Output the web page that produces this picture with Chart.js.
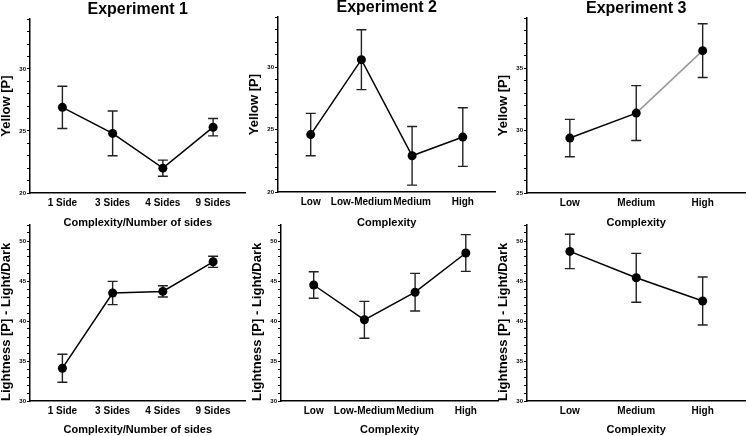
<!DOCTYPE html>
<html>
<head>
<meta charset="utf-8">
<script src="https://cdn.jsdelivr.net/npm/chart.js@4.4.0/dist/chart.umd.min.js"></script>
<style>
  body { margin: 0; background: #fff; width: 750px; height: 436px; overflow: hidden; position: relative; }
  canvas { position: absolute; }
</style>
</head>
<body>
<canvas id="c1"></canvas>
<canvas id="c2"></canvas>
<canvas id="c3"></canvas>
<canvas id="c4"></canvas>
<canvas id="c5"></canvas>
<canvas id="c6"></canvas>
<script>
// categories
const sidesLabels = ["1 Side", "3 Sides", "4 Sides", "9 Sides"];
const exp2Labels = ["Low", "Low-Medium", "Medium", "High"];
const exp3Labels = ["Low", "Medium", "High"];

// Yellow [P] means and error bars
const exp1Yellow = [26.9, 24.8, 22.0, 25.3];
const exp1YellowErr = [1.7, 1.8, 0.65, 0.7];
const exp2Yellow = [24.6, 30.6, 22.9, 24.4];
const exp2YellowErr = [1.7, 2.4, 2.35, 2.35];
const exp3Yellow = [29.4, 31.4, 36.4];
const exp3YellowErr = [1.5, 2.2, 2.15];

// Lightness [P] means and error bars
const exp1Light = [34.1, 43.5, 43.7, 47.4];
const exp1LightErr = [1.75, 1.45, 0.7, 0.7];
const exp2Light = [44.5, 40.15, 43.6, 48.5];
const exp2LightErr = [1.65, 2.3, 2.35, 2.3];
const exp3Light = [48.7, 45.4, 42.5];
const exp3LightErr = [2.15, 3.05, 3.0];

const FONT = "'Liberation Sans', Arial, sans-serif";
Chart.defaults.color = "#000";
Chart.defaults.font.family = FONT;

// error bars drawn under the points
const errorBars = {
    id: "errorBars",
    beforeDatasetsDraw(chart) {
        const { ctx, scales: { x, y } } = chart;
        const ds = chart.data.datasets[0];
        ctx.save();
        ctx.strokeStyle = "#222";
        ctx.lineWidth = 1.4;
        ds.data.forEach((pt, i) => {
            const e = ds.errors[i];
            const px = x.getPixelForValue(pt.x);
            const top = y.getPixelForValue(pt.y + e);
            const bot = y.getPixelForValue(pt.y - e);
            ctx.beginPath();
            ctx.moveTo(px, top); ctx.lineTo(px, bot);
            ctx.moveTo(px - 5, top); ctx.lineTo(px + 5, top);
            ctx.moveTo(px - 5, bot); ctx.lineTo(px + 5, bot);
            ctx.stroke();
        });
        ctx.restore();
    }
};

function panel(id, p) {
    const canvas = document.getElementById(id);
    const yw = 30;
    const left = p.x0 - yw;
    const top = p.title ? p.top : p.y0 - 6;
    const w = Math.round(p.x1 - left);
    const h = Math.round(p.xTitleY + 6.6 - top);
    const xh = h - (p.y1 - top);
    canvas.width = w;
    canvas.height = h;
    canvas.style.left = left + "px";
    canvas.style.top = top + "px";

    new Chart(canvas, {
        type: "line",
        data: {
            datasets: [{
                data: p.values.map((v, i) => ({ x: i + 1, y: v })),
                errors: p.errors,
                borderColor: "#000",
                borderWidth: 1.5,
                tension: 0,
                pointRadius: 4.5,
                pointHoverRadius: 4.5,
                pointBackgroundColor: "#000",
                pointBorderWidth: 0,
                segment: p.segment
            }]
        },
        options: {
            responsive: false,
            animation: false,
            layout: { padding: { top: p.title ? 0 : 6, left: 0, right: 0, bottom: 0 } },
            plugins: {
                legend: { display: false },
                tooltip: { enabled: false },
                title: {
                    display: !!p.title,
                    text: p.title,
                    fullSize: false,
                    padding: 0,
                    font: { size: 16, weight: "bold", lineHeight: 1.2 }
                }
            },
            scales: {
                x: {
                    type: "linear",
                    min: 1 - 0.645,
                    max: p.labels.length + 0.645,
                    afterBuildTicks: s => { s.ticks = p.labels.map((_, i) => ({ value: i + 1 })); },
                    afterFit: s => { s.height = xh; },
                    grid: { display: false, drawTicks: false, tickLength: 0 },
                    border: { display: true, color: "#000", width: 1.5 },
                    ticks: {
                        autoSkip: false,
                        maxRotation: 0,
                        padding: 4,
                        font: { size: 10, weight: "bold" },
                        callback: v => p.labels[v - 1] || ""
                    },
                    title: {
                        display: true,
                        text: p.xTitle,
                        padding: 0,
                        font: { size: 11, weight: "bold", lineHeight: 1.2 }
                    }
                },
                y: {
                    min: p.yMin,
                    max: p.yMax,
                    afterFit: s => { s.width = yw; },
                    grid: { display: true, drawOnChartArea: false, drawTicks: true, tickLength: 3, color: "#000", lineWidth: 1 },
                    border: { display: true, color: "#000", width: 1.5 },
                    ticks: {
                        stepSize: 1,
                        autoSkip: false,
                        padding: 1,
                        font: { size: 6, weight: "bold" },
                        callback: v => (v % 5 === 0 ? v : "")
                    },
                    title: {
                        display: true,
                        text: p.yTitle,
                        align: p.yAlign || "center",
                        padding: 0,
                        font: { size: 13, weight: "bold", lineHeight: 1 }
                    }
                }
            }
        },
        plugins: [errorBars]
    });
}

// top row: Yellow
panel("c1", { title: "Experiment 1", top: 0, x0: 30, x1: 250, y1: 193, xTitleY: 223,
    labels: sidesLabels, values: exp1Yellow, errors: exp1YellowErr, yMin: 20, yMax: 34,
    xTitle: "Complexity/Number of sides", yTitle: "Yellow [P]" });
panel("c2", { title: "Experiment 2", top: -2, x0: 278, x1: 500, y1: 192, xTitleY: 223,
    labels: exp2Labels, values: exp2Yellow, errors: exp2YellowErr, yMin: 20, yMax: 34,
    xTitle: "Complexity", yTitle: "Yellow [P]" });
panel("c3", { title: "Experiment 3", top: -1, x0: 527, x1: 750, y1: 193, xTitleY: 223,
    labels: exp3Labels, values: exp3Yellow, errors: exp3YellowErr, yMin: 25, yMax: 39,
    xTitle: "Complexity", yTitle: "Yellow [P]",
    segment: { borderColor: ctx => (ctx.p0DataIndex === 1 ? "#999" : "#000") } });

// bottom row: Lightness
panel("c4", { y0: 225, x0: 30, x1: 250, y1: 401, xTitleY: 430,
    labels: sidesLabels, values: exp1Light, errors: exp1LightErr, yMin: 30, yMax: 52,
    xTitle: "Complexity/Number of sides", yTitle: "Lightness [P] - Light/Dark", yAlign: "start" });
panel("c5", { y0: 225, x0: 281, x1: 503, y1: 401, xTitleY: 430,
    labels: exp2Labels, values: exp2Light, errors: exp2LightErr, yMin: 30, yMax: 52,
    xTitle: "Complexity", yTitle: "Lightness [P] - Light/Dark", yAlign: "start" });
panel("c6", { y0: 225, x0: 527, x1: 750, y1: 401, xTitleY: 430,
    labels: exp3Labels, values: exp3Light, errors: exp3LightErr, yMin: 30, yMax: 52,
    xTitle: "Complexity", yTitle: "Lightness [P] - Light/Dark", yAlign: "start" });
</script>
</body>
</html>
